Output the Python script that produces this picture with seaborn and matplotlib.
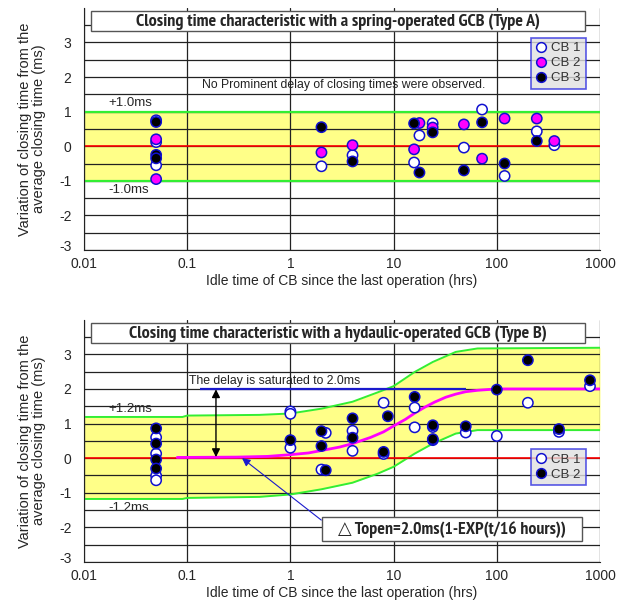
import numpy as np
import pandas as pd
import seaborn as sns
import matplotlib.pyplot as plt
import matplotlib.transforms as mtransforms
from matplotlib.lines import Line2D
from matplotlib.patches import Rectangle

sns.set_style('white')
plt.rcParams['font.family'] = ['Liberation Sans', 'DejaVu Sans']
plt.rcParams['axes.unicode_minus'] = False

# ---- data: Type A (spring-operated) ----
a_cb1_x = [0.05, 0.05, 0.05, 2, 4, 15.8, 17.8, 23.9, 48, 72, 119, 244, 361]
a_cb1_y = [0.75, 0.12, -0.55, -0.58, -0.26, -0.47, 0.31, 0.66, -0.04, 1.06, -0.86, 0.43, 0.03]
a_cb2_x = [0.05, 0.05, 2, 4, 15.8, 17.8, 23.9, 48, 72, 119, 244, 361]
a_cb2_y = [0.2, -0.95, -0.18, 0.03, -0.09, 0.67, 0.54, 0.63, -0.36, 0.80, 0.80, 0.15]
a_cb3_x = [0.05, 0.05, 0.05, 2, 4, 15.8, 17.8, 23.9, 48, 72, 119, 244]
a_cb3_y = [0.70, -0.25, -0.35, 0.55, -0.44, 0.66, -0.76, 0.40, -0.70, 0.69, -0.50, 0.15]

# ---- data: Type B (hydraulic-operated) ----
b_cb1_x = [0.05, 0.05, 0.05, 0.05, 1, 1, 1, 2, 2.2, 4, 4, 8, 8, 16, 16, 24, 24, 50, 100, 200, 400, 800]
b_cb1_y = [0.6, 0.13, -0.51, -0.64, 1.35, 1.28, 0.30, -0.33, 0.73, 0.79, 0.21, 1.6, 0.12, 1.46, 0.89, 0.9, 0.52, 0.74, 0.64, 1.6, 0.76, 2.08]
b_cb2_x = [0.05, 0.05, 0.05, 0.05, 1, 2, 2, 2.2, 4, 4, 8.8, 8, 16, 24, 24, 50, 100, 200, 400, 800]
b_cb2_y = [0.86, 0.42, -0.04, -0.3, 0.52, 0.78, 0.35, -0.35, 1.15, 0.59, 1.21, 0.18, 1.77, 0.95, 0.55, 0.92, 1.98, 2.83, 0.84, 2.25]

# delay curve and envelope
curve_x = [0.08, 0.3, 0.6, 1, 1.5, 2, 3, 4, 6, 8, 10, 13, 16, 20, 25, 32, 40, 50, 65, 80, 100, 1000]
curve_y = [0.02, 0.03, 0.05, 0.1, 0.15, 0.22, 0.32, 0.42, 0.6, 0.76, 0.93, 1.12, 1.3, 1.47, 1.62, 1.76, 1.85, 1.92, 1.96, 1.98, 2.0, 2.0]
env_x = [0.01, 0.09, 0.1, 0.5, 1, 2, 4, 7, 10, 16, 24, 40, 65, 1000]
env_upper = [1.19, 1.19, 1.23, 1.25, 1.29, 1.43, 1.63, 1.9, 2.08, 2.49, 2.78, 3.07, 3.17, 3.19]
env_lower = [-1.18, -1.18, -1.15, -1.12, -1.05, -0.9, -0.71, -0.45, -0.25, 0.13, 0.42, 0.71, 0.81, 0.81]

x_ticks = [0.01, 0.1, 1, 10, 100, 1000]
x_labels = ['0.01', '0.1', '1', '10', '100', '1000']

df_a = pd.concat([
    pd.DataFrame({'t': a_cb1_x, 'dv': a_cb1_y, 'CB': 'CB 1'}),
    pd.DataFrame({'t': a_cb2_x, 'dv': a_cb2_y, 'CB': 'CB 2'}),
    pd.DataFrame({'t': a_cb3_x, 'dv': a_cb3_y, 'CB': 'CB 3'}),
])
df_b = pd.concat([
    pd.DataFrame({'t': b_cb1_x, 'dv': b_cb1_y, 'CB': 'CB 1'}),
    pd.DataFrame({'t': b_cb2_x, 'dv': b_cb2_y, 'CB': 'CB 2'}),
])
pal = {'CB 1': 'white', 'CB 2': '#ff00ff', 'CB 3': 'black'}
pal_b = {'CB 1': 'white', 'CB 2': 'black'}
edge = '#1010d0'
yellow = '#ffff88'
green = '#33ee33'
title_font = ['PT Sans Narrow', 'DejaVu Sans']
ylab = 'Variation of closing time from the\naverage closing time (ms)'
xlab = 'Idle time of CB since the last operation (hrs)'

fig = plt.figure(figsize=(6.25, 6.01), dpi=100)
ax1 = fig.add_axes([0.1344, 0.584, 0.8256, 0.403])
ax2 = fig.add_axes([0.1344, 0.065, 0.8256, 0.403])


def base(ax):
    ax.set_xscale('log')
    ax.set_xlim(0.01, 1000)
    ax.set_ylim(-3, 4)
    ax.set_xticks(x_ticks)
    ax.set_xticklabels(x_labels)
    ax.xaxis.set_minor_locator(plt.NullLocator())
    ax.set_yticks(range(-3, 4))
    ax.set_yticks(np.arange(-2.5, 3.6, 1.0), minor=True)
    ax.grid(True, which='both', color='#222222', lw=0.9)
    ax.set_axisbelow(True)
    ax.tick_params(which='both', length=0, labelsize=10)
    ax.tick_params(axis='x', pad=5)
    ax.tick_params(axis='y', pad=9)
    for s in ['top', 'right']:
        ax.spines[s].set_visible(False)
    for s in ['left', 'bottom']:
        ax.spines[s].set_color('#222222')


def labels(ax):
    ax.set_xlabel(xlab, fontsize=10, labelpad=2)
    ax.set_ylabel(ylab, fontsize=10.5, labelpad=9, linespacing=1.0)
    # lift the "-3" label a little, as in the original
    lab = ax.get_yticklabels()[0]
    lab.set_transform(lab.get_transform() + mtransforms.ScaledTranslation(0, 3 / 72, fig.dpi_scale_trans))


def title_box(ax, text):
    ax.add_patch(Rectangle((0.0136, 0.903), 0.958, 0.085, transform=ax.transAxes,
                           facecolor='white', edgecolor='#555555', lw=1, zorder=5))
    ax.text(0.492, 0.943, text, transform=ax.transAxes, ha='center', va='center',
            fontsize=13, fontweight='bold', family=title_font, zorder=6)


def cb_legend(ax, colors, anchor):
    hs = [Line2D([], [], ls='', marker='o', ms=7, mfc=colors[k], mec=edge, mew=1.1) for k in colors]
    leg = ax.legend(hs, list(colors), loc='upper right', bbox_to_anchor=anchor,
                    frameon=True, fancybox=False, fontsize=9.5, handlelength=0.8,
                    handletextpad=0.4, borderpad=0.35, labelspacing=0.2, borderaxespad=0)
    leg.get_frame().set_facecolor('#e0e0e0')
    leg.get_frame().set_edgecolor('#3030e0')
    leg.get_frame().set_linewidth(1.2)
    for t in leg.get_texts():
        t.set_color('#333333')
    leg.set_zorder(7)


# ---- top panel ----
base(ax1)
ax1.axhspan(-1, 1, color=yellow, zorder=0.3, lw=0)
ax1.axhline(1, color=green, lw=1.6, zorder=2)
ax1.axhline(-1, color=green, lw=1.6, zorder=2)
ax1.axhline(0, color='red', lw=1.2, zorder=2)
sns.scatterplot(data=df_a, x='t', y='dv', hue='CB', palette=pal, s=55,
                edgecolor=edge, linewidth=1.1, zorder=4, legend=False, ax=ax1)
labels(ax1)
title_box(ax1, 'Closing time characteristic with a spring-operated GCB (Type A)')
ax1.text(0.14, 1.76, 'No Prominent delay of closing times were observed.',
         fontsize=8.8, va='center', color='#222222')
ax1.text(0.0172, 1.24, '+1.0ms', fontsize=9.5, va='center')
ax1.text(0.0172, -1.27, '-1.0ms', fontsize=9.5, va='center')
cb_legend(ax1, pal, (0.972, 0.877))

# ---- bottom panel ----
base(ax2)
ax2.fill_between(env_x, env_lower, env_upper, color=yellow, zorder=0.3, lw=0)
sns.lineplot(x=env_x, y=env_upper, color=green, lw=1.4, zorder=2, ax=ax2)
sns.lineplot(x=env_x, y=env_lower, color=green, lw=1.4, zorder=2, ax=ax2)
ax2.axhline(0, color='red', lw=1.2, zorder=2)
ax2.hlines(2.0, 0.133, 50, color='#1a1acc', lw=1.6, zorder=2)
sns.lineplot(x=curve_x, y=curve_y, color='#ff00ff', lw=2, zorder=3, ax=ax2)
sns.scatterplot(data=df_b, x='t', y='dv', hue='CB', palette=pal_b, s=55,
                edgecolor=edge, linewidth=1.1, zorder=4, legend=False, ax=ax2)
labels(ax2)
title_box(ax2, 'Closing time characteristic with a hydaulic-operated GCB (Type B)')
ax2.text(0.105, 2.07, 'The delay is saturated to 2.0ms', fontsize=8.8, va='bottom', color='#222222')
ax2.text(0.0172, 1.43, '+1.2ms', fontsize=9.5, va='center')
ax2.text(0.0172, -1.45, '-1.2ms', fontsize=9.5, va='center')
ax2.annotate('', xy=(0.19, 1.99), xytext=(0.19, 0.03),
             arrowprops=dict(arrowstyle='<|-|>', color='black', lw=1, mutation_scale=12,
                             shrinkA=0, shrinkB=0), zorder=5)
ax2.add_patch(Rectangle((0.4618, 0.088), 0.5027, 0.097, transform=ax2.transAxes,
                        facecolor='white', edgecolor='#555555', lw=1, zorder=5))
ax2.text(0.713, 0.134, '\u25b3 Topen=2.0ms(1-EXP(t/16 hours))', transform=ax2.transAxes,
         ha='center', va='center', fontsize=12.8, fontweight='bold', family=title_font, zorder=6)
ax2.annotate('', xy=(0.34, 0.0), xytext=(1.99, -1.79),
             arrowprops=dict(arrowstyle='-|>', color='#1a1acc', lw=0.8, mutation_scale=12,
                             shrinkA=0, shrinkB=0), zorder=5)
cb_legend(ax2, pal_b, (0.972, 0.466))

fig.savefig('out.png', dpi=100)
